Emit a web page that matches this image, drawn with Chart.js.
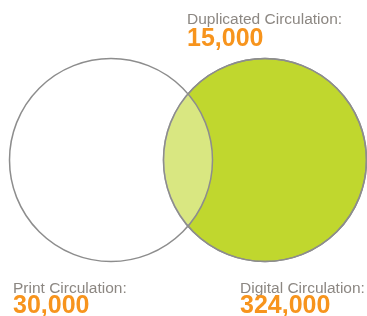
<!DOCTYPE html>
<html>
<head>
<meta charset="utf-8">
<script src="https://cdn.jsdelivr.net/npm/chart.js@4"></script>
<style>
  html, body { margin: 0; padding: 0; background: #fff; }
  #wrap { width: 367px; height: 316px; position: relative; }
</style>
</head>
<body>
<div id="wrap"><canvas id="venn-chart"></canvas></div>
<script>
const labels = ['Print Circulation:', 'Digital Circulation:', 'Duplicated Circulation:'];
const circulation = [30000, 324000, 15000];

// circle centres in radius units, the picture is not drawn to scale
const gap = 1.517;
const xMin = -111 / 101.5, xMax = 256 / 101.5;
const yMin = -156 / 101.5, yMax = 160 / 101.5;

const vennCanvas = document.getElementById('venn-chart');

// one unit on the x axis in pixels = circle radius
function radiusPx(ctx) {
    const w = ctx.chart.chartArea ? ctx.chart.chartArea.width : ctx.chart.width;
    return w / (xMax - xMin);
}

const textPlugin = {
    id: 'vennText',
    afterDraw(chart) {
        const c = chart.ctx;
        const spots = [
            { x: 13, y: 293, vy: 313 },
            { x: 240, y: 293, vy: 313 },
            { x: 187, y: 24, vy: 46 }
        ];
        c.save();
        c.textAlign = 'left';
        c.textBaseline = 'alphabetic';
        labels.forEach((lbl, i) => {
            c.font = '15.5px "Liberation Sans", Arial, sans-serif';
            c.fillStyle = '#8c8782';
            c.fillText(lbl, spots[i].x, spots[i].y);
            c.font = 'bold 25px "Liberation Sans", Arial, sans-serif';
            c.fillStyle = '#f7941d';
            c.fillText(circulation[i].toLocaleString('en-US'), spots[i].x, spots[i].vy);
        });
        c.restore();
    }
};

let vennData = {
    datasets: [{
        // grey outline of the digital circle, on top
        data: [{ x: gap, y: 0 }],
        backgroundColor: 'rgba(0,0,0,0)',
        borderColor: '#8d8d8d',
        borderWidth: 1.5,
        radius: radiusPx,
        clip: false
    }, {
        // print circle, white wash over the overlap
        data: [{ x: 0, y: 0 }],
        backgroundColor: 'rgba(255,255,255,0.4)',
        borderColor: '#8d8d8d',
        borderWidth: 1.5,
        radius: radiusPx,
        clip: false
    }, {
        // digital circle
        data: [{ x: gap, y: 0 }],
        backgroundColor: '#c0d72e',
        borderColor: '#8d8d8d',
        borderWidth: 1.5,
        radius: radiusPx,
        clip: false
    }]
};

let vennOptions = {
    responsive: true,
    maintainAspectRatio: false,
    animation: false,
    events: [],
    layout: { padding: 0, autoPadding: false },
    scales: {
        x: { type: 'linear', display: false, min: xMin, max: xMax },
        y: { type: 'linear', display: false, min: yMin, max: yMax }
    },
    plugins: {
        legend: { display: false },
        tooltip: { enabled: false }
    }
};

let vennChart = new Chart(vennCanvas, {
    type: 'bubble',
    data: vennData,
    options: vennOptions,
    plugins: [textPlugin]
});
</script>
</body>
</html>
